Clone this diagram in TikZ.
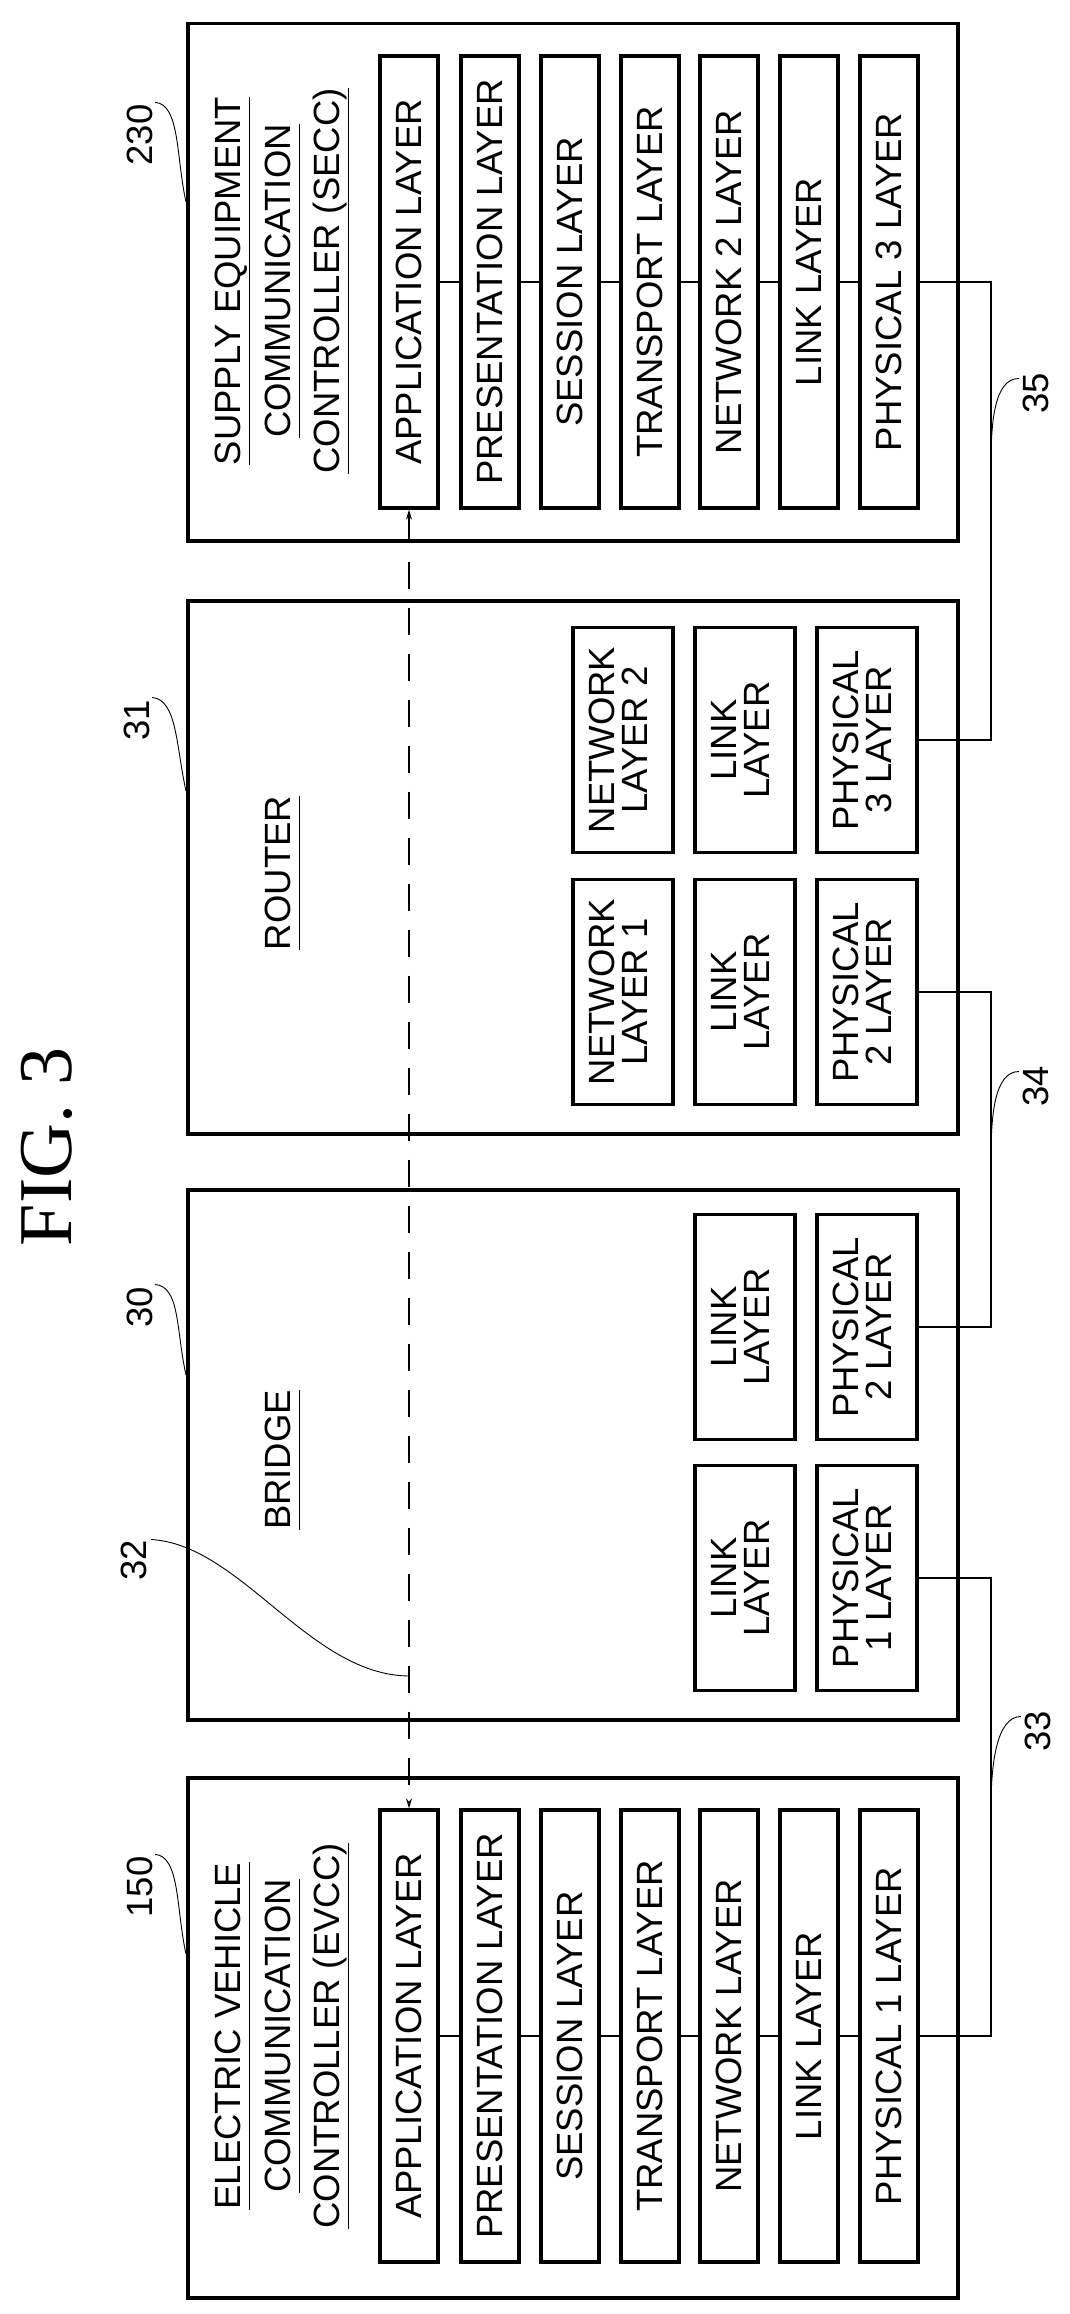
\documentclass[tikz,border=0pt]{standalone}
\usepackage{fontspec}
\setmainfont{Liberation Sans}
\newfontfamily\figserif{Liberation Serif}
\usetikzlibrary{arrows.meta}
\newcommand\lyr[1]{\rotatebox{90}{#1}}
\newcommand\lyrtwo[2]{\rotatebox{90}{\begin{tabular}{@{}c@{}}#1\\[-5pt]#2\end{tabular}}}
\begin{document}
\begin{tikzpicture}[x=1pt,y=-1pt,
  txt/.style={font=\fontsize{36.5}{38}\selectfont},
  big/.style={draw,line width=3.5pt,inner sep=0pt,anchor=north west},
  layer/.style={draw,fill=white,line width=3.2pt,inner sep=0pt,minimum width=58pt,minimum height=452pt,txt},
  small/.style={draw,fill=white,line width=3.2pt,inner sep=0pt,minimum width=100pt,minimum height=225pt,txt},
  ttl/.style={txt,rotate=90,text height=26pt,text depth=0pt,inner xsep=0pt,inner ysep=9pt},
  wire/.style={line width=1.3pt},
  lead/.style={line width=0.9pt},
  num/.style={txt,rotate=90,inner sep=0pt}]
\useasboundingbox (0,0) rectangle (1069,2314);
% big boxes
\node[big,minimum width=770pt,minimum height=517pt] (secc) at (186,22) {};
\node[big,minimum width=770pt,minimum height=533pt] (router) at (186,599) {};
\node[big,minimum width=770pt,minimum height=530pt] (bridge) at (186,1188) {};
\node[big,minimum width=770pt,minimum height=520pt] (evcc) at (186,1776) {};
% FIG
\node[rotate=90,font=\figserif\fontsize{76}{80}\selectfont,inner sep=0pt] (fig) at (47,1147) {FIG. 3};
% bus coordinates
\coordinate (k35) at (991,500);
\coordinate (k34) at (991,1150);
\coordinate (k33) at (991,1800);
% SECC
\coordinate (sline) at (409,282);
\node[layer] (s1) at (409,282) {\lyr{APPLICATION LAYER}};
\node[layer] (s2) at (490,282) {\lyr{PRESENTATION LAYER}};
\node[layer] (s3) at (570,282) {\lyr{SESSION LAYER}};
\node[layer] (s4) at (650,282) {\lyr{TRANSPORT LAYER}};
\node[layer] (s5) at (729,282) {\lyr{NETWORK 2 LAYER}};
\node[layer] (s6) at (809,282) {\lyr{LINK LAYER}};
\node[layer] (s7) at (889,282) {\lyr{PHYSICAL 3 LAYER}};
\begin{scope}[on background layer/.style={}]
\end{scope}
% EVCC
\node[layer] (e1) at (409,2036) {\lyr{APPLICATION LAYER}};
\node[layer] (e2) at (490,2036) {\lyr{PRESENTATION LAYER}};
\node[layer] (e3) at (570,2036) {\lyr{SESSION LAYER}};
\node[layer] (e4) at (650,2036) {\lyr{TRANSPORT LAYER}};
\node[layer] (e5) at (729,2036) {\lyr{NETWORK LAYER}};
\node[layer] (e6) at (809,2036) {\lyr{LINK LAYER}};
\node[layer] (e7) at (889,2036) {\lyr{PHYSICAL 1 LAYER}};
% internal stack lines
\foreach \a/\b in {1/2,2/3,3/4,4/5,5/6,6/7}{
  \draw[wire] (s\a.east) -- (s\b.west);
  \draw[wire] (e\a.east) -- (e\b.west);
}
% router
\node[small] (rn2) at (623,740) {\lyrtwo{NETWORK}{LAYER 2}};
\node[small] (rl2) at (745,740) {\lyrtwo{LINK}{LAYER}};
\node[small] (rp3) at (867,740) {\lyrtwo{PHYSICAL}{3 LAYER}};
\node[small] (rn1) at (623,992) {\lyrtwo{NETWORK}{LAYER 1}};
\node[small] (rl1) at (745,992) {\lyrtwo{LINK}{LAYER}};
\node[small] (rp2) at (867,992) {\lyrtwo{PHYSICAL}{2 LAYER}};
% bridge
\node[small] (bl2) at (745,1327) {\lyrtwo{LINK}{LAYER}};
\node[small] (bp2) at (867,1327) {\lyrtwo{PHYSICAL}{2 LAYER}};
\node[small] (bl1) at (745,1578) {\lyrtwo{LINK}{LAYER}};
\node[small] (bp1) at (867,1578) {\lyrtwo{PHYSICAL}{1 LAYER}};
% titles
\node[ttl] (st1) at (227,281) {SUPPLY EQUIPMENT};
\node[ttl] (st2) at (277,281) {COMMUNICATION};
\node[ttl] (st3) at (326,281) {CONTROLLER (SECC)};
\node[ttl] (et1) at (227,2036) {ELECTRIC VEHICLE};
\node[ttl] (et2) at (277,2036) {COMMUNICATION};
\node[ttl] (et3) at (326,2036) {CONTROLLER (EVCC)};
\node[ttl] (rt) at (277,873) {ROUTER};
\node[ttl] (bt) at (277,1460) {BRIDGE};
\foreach \n in {st1,st2,st3,et1,et2,et3,rt,bt}
  \draw[line width=1.2pt] (\n.south west) -- (\n.south east);
% connectors
\draw[wire] (s7.east) -| (k35) |- (rp3.east);
\draw[wire] (rp2.east) -| (k34) |- (bp2.east);
\draw[wire] (bp1.east) -| (k33) |- (e7.east);
% dashed message path
\draw[wire,dash pattern=on 27pt off 19pt,{Stealth[length=10pt,width=6pt]}-{Stealth[length=10pt,width=6pt]}] (s1.south) -- (e1.north);
% reference numerals
\node[num] (n230) at (140,135) {230};
\node[num] (n31) at (137,720) {31};
\node[num] (n30) at (140,1307) {30};
\node[num] (n32) at (134,1560) {32};
\node[num] (n150) at (140,1887) {150};
\node[num] (n35) at (1036,393) {35};
\node[num] (n34) at (1036,1086) {34};
\node[num] (n33) at (1038,1731) {33};
\coordinate (a230) at (186,202);
\coordinate (a31) at (186,791);
\coordinate (a30) at (186,1375);
\coordinate (a150) at (186,1954);
\coordinate (a32) at (410,1676);
\coordinate (a35) at (991,464);
\coordinate (a34) at (991,1158);
\coordinate (a33) at (991,1807);
\foreach \n in {230,31,30,150}
  \draw[lead] (n\n.south east) ++(2,-2) .. controls +(25,2) and +(-10,-45) .. (a\n);
\foreach \n in {35,34,33}
  \draw[lead] (n\n.north east) ++(-4,6) .. controls +(-25,0) and +(0,-40) .. (a\n);
\draw[lead] (n32.south east) ++(4,0) .. controls +(90,5) and +(-100,0) .. (a32);
\end{tikzpicture}
\end{document}
